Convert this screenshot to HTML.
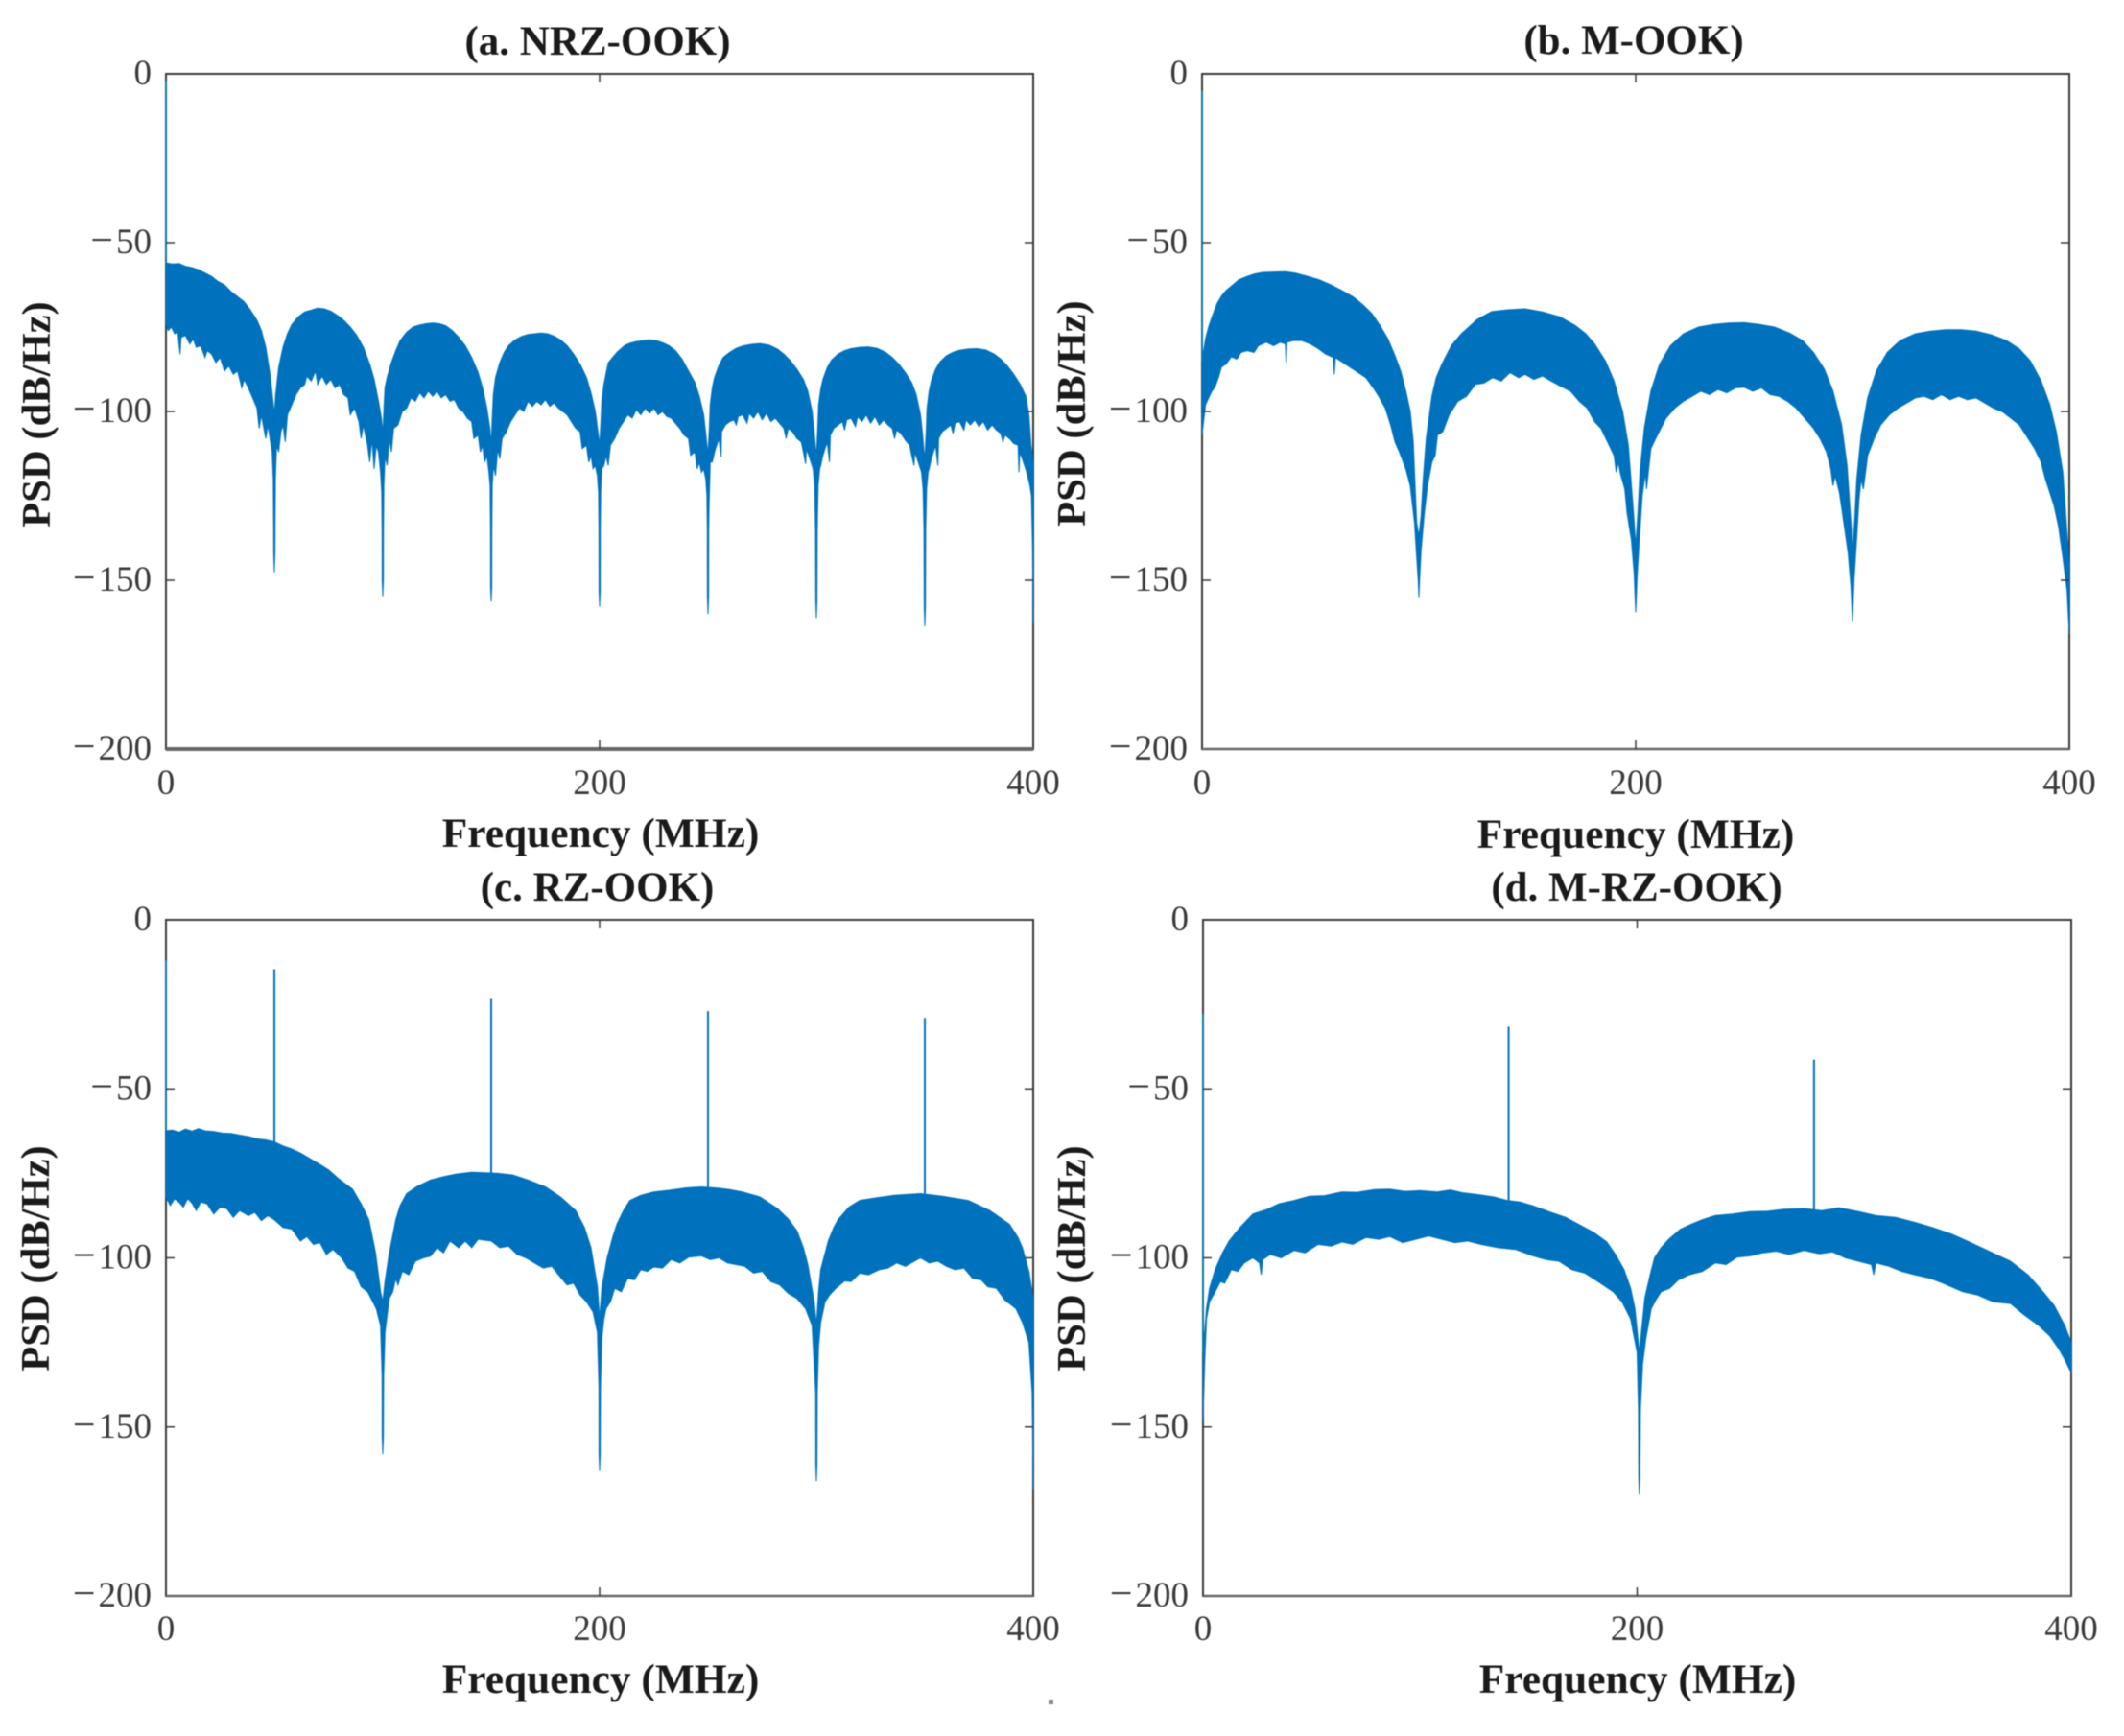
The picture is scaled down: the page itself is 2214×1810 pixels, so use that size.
<!DOCTYPE html>
<html lang="en">
<head>
<meta charset="utf-8">
<title>PSD of OOK formats</title>
<style>
html,body{margin:0;padding:0;background:#fff;}
#figure{display:block;width:2214px;height:1810px;filter:blur(0.4px);}
text{font-family:"Liberation Serif",serif;}
.tick-label{font-size:37px;fill:#3a3a3a;}
.axis-title{font-size:43px;font-weight:bold;fill:#1a1a1a;}
.x-title{font-size:43.4px;}
.y-title{font-size:42.6px;}
</style>
</head>
<body>
<svg id="figure" xmlns="http://www.w3.org/2000/svg" width="2214" height="1810" viewBox="0 0 2214 1810"></svg>
<script>
// Shared tick values
const xTickValues = [0, 200, 400];
const yTickValues = [0, -50, -100, -150, -200];

// (a) NRZ-OOK: [frequency MHz, dB/Hz]
const nrzUpper = [[0,-56],[3,-56.3],[6,-56.2],[9,-57],[12,-57.4],[15,-58],[18,-59],[21,-60],[24,-61.5],[27,-62.5],[30,-64.5],[33,-66],[36,-67.5],[39,-70],[42,-73],[44,-76],[46,-81],[48,-89],[49.4,-97],[50,-101],
[50.6,-95],[52,-87],[54,-81],[56,-77],[58,-74.3],[61,-72],[64,-70.5],[67,-70],[70,-69.4],[73,-69.6],[76,-70.3],[79,-71.5],[82,-73],[85,-75],[88,-77.5],[91,-81],[94,-86],[96,-90.5],[98,-97],[99.4,-102],[100,-107],
[100.6,-98],[101,-93],[102,-90],[104,-85.5],[106,-82],[108,-79],[111,-76.5],[114,-75],[117,-74.4],[120,-74],[123,-73.8],[126,-74],[129,-74.6],[132,-76],[135,-78],[138,-80.5],[141,-84],[144,-88.5],[146,-93],[148,-99],[149.4,-105],[150,-110],
[150.6,-100],[151,-95],[152,-90],[154,-85.5],[156,-82.5],[158,-80.5],[161,-78.8],[164,-77.8],[167,-77.2],[170,-77],[173,-76.8],[176,-77],[179,-77.7],[182,-78.8],[185,-80.5],[188,-83],[191,-86],[194,-90],[196,-94.5],[198,-100],[199.2,-106],[200,-110],
[200.6,-103],[201,-97],[202,-92],[204,-85.6],[206,-84],[208,-82.5],[211.7,-80.4],[214,-79.8],[217,-79.3],[220,-79],[223,-78.8],[226,-79],[229,-79.6],[232,-80.5],[235,-82],[238,-84.5],[241,-88],[244,-91.5],[246,-95.5],[248,-101],[249.2,-108],[250,-113],
[250.6,-105],[251,-98],[252,-93],[253,-90],[255,-86.5],[257,-84],[260,-82.5],[263,-81.3],[266,-80.6],[270,-80.1],[274,-79.9],[278,-80.3],[282,-81.5],[285,-83],[288,-85],[291,-87.5],[294,-90.5],[296,-94],[298,-100],[299,-106],[299.6,-111],[300,-113],
[300.6,-105],[301,-98],[302,-93.5],[303,-90.5],[305,-87],[307,-84.8],[310,-83],[313,-82],[316,-81.4],[320,-81],[324,-80.9],[328,-81.3],[332,-82.5],[335,-84],[338,-86],[341,-88.5],[344,-91.5],[346,-95],[348,-101],[349,-107],[349.6,-112],[350,-114],
[350.6,-106],[351,-99],[352,-94],[353,-91],[355,-87.5],[357,-85.3],[360,-83.5],[363,-82.5],[366,-81.9],[370,-81.5],[374,-81.4],[378,-81.8],[382,-83],[385,-84.5],[388,-86.5],[391,-89],[394,-92],[396.6,-95.5],[398,-101],[399,-110],[400,-115]];
const nrzLower = [[0,-74],[1,-76],[2.5,-75],[4,-77],[5.5,-76.5],[6.5,-83],[7,-78],[9,-77.5],[11,-80],[12.5,-78.5],[14,-81],[16,-80.5],[18,-84],[19,-82],[21,-83],[23,-85.5],[25,-84],[27,-88],[29,-86.5],[31,-89],[33,-88],[35,-93],[36,-90.5],[38,-93],[40,-96],[42,-99],[43,-105],[44,-101],[46,-108],[47,-104],[48,-108],[49,-112],[49.5,-120],[49.7,-135],[49.75,-142],[50,-147.6],
[50.25,-142],[50.3,-135],[50.5,-120],[51,-110],[52,-112],[53,-106],[54,-104],[55,-109],[56,-101],[58,-98],[60,-95],[62,-93],[64,-92],[65,-89.5],[67,-91],[69,-88],[70,-92],[72,-89.5],[74,-92],[76,-90.5],[78,-93],[80,-92],[82,-95],[84,-96],[85,-101],[87,-99],[89,-103],[90,-108],[91,-104],[93,-110],[94,-115],[95,-108],[96,-117],[97,-110],[98,-112],[99,-118],[99.5,-124],[99.7,-135],[99.75,-150],[100,-154.7],
[100.25,-150],[100.3,-135],[100.5,-122],[101,-113],[102,-116],[103,-108],[104,-112],[105,-105],[107,-104],[109,-100],[111,-99],[113,-96],[115,-97],[117,-94.5],[119,-96],[121,-94],[123,-95.5],[125,-94],[127,-96],[129,-95],[131,-97],[133,-96.5],[135,-99],[137,-100],[139,-102],[141,-103],[142,-108],[144,-107],[145,-112],[146,-110],[147,-115],[148,-113],[149,-118],[149.5,-122],[149.7,-135],[149.75,-152],[150,-156.3],
[150.25,-152],[150.3,-135],[150.5,-122],[151,-116],[152,-119],[153,-111],[154,-114],[155,-108],[157,-106],[159,-103],[161,-101],[163,-99],[165,-100],[167,-97],[169,-98.5],[171,-97],[173,-98],[175,-96.5],[177,-98.5],[179,-97.5],[181,-99],[183,-100],[185,-101],[187,-103],[189,-105],[191,-106],[192,-111],[194,-110],[195,-115],[196,-113],[197,-117],[198,-116],[199,-119],[199.5,-124],[199.7,-135],[199.75,-153],[200,-157.8],
[200.25,-153],[200.3,-135],[200.5,-124],[201,-117],[202,-116],[203,-113],[204,-116],[205,-110],[207,-108],[209,-105],[211,-103],[213,-101],[215,-102],[217,-99.5],[219,-101],[221,-99],[223,-100.5],[225,-99],[227,-101],[229,-100],[231,-101.5],[233,-102],[235,-103.5],[237,-105],[239,-107],[241,-108],[242,-113],[244,-112],[245,-117],[246,-115],[247,-118],[248,-117],[249,-120],[249.5,-125],[249.7,-135],[249.75,-155],[250,-160],
[250.25,-155],[250.3,-135],[250.5,-128],[251,-115],[252,-115],[253,-112],[254,-110],[255,-108],[256,-113.5],[256.3,-106],[258,-104],[260,-103],[262,-102.5],[263,-104],[264,-101.5],[266,-101],[268,-103.5],[269,-100.5],[271,-102],[273,-100],[275,-102.5],[277,-100.5],[279,-103],[281,-102],[283,-103.5],[285,-105],[286,-108],[287,-105],[289,-106],[291,-108],[293,-109],[294,-112],[295,-115.5],[295.4,-111],[297,-114],[298.5,-117],[299.2,-122],[299.6,-135],[299.75,-156],[300,-161.2],
[300.25,-156],[300.4,-135],[300.8,-122],[301.5,-117],[302,-116],[303,-113],[304,-111],[305,-109],[306,-115],[306.4,-107],[308,-105],[310,-104],[312,-103],[313,-105.5],[314,-102.5],[316,-102],[318,-104.5],[319,-101.5],[321,-103],[323,-101],[325,-103.5],[327,-101.5],[329,-104],[331,-102.5],[333,-104],[335,-105],[336,-108],[337,-105.5],[339,-106.5],[341,-108.5],[343,-110],[344,-113],[345,-116],[345.4,-112],[347,-115],[348.5,-118],[349.2,-123],[349.6,-135],[349.75,-158],[350,-163.6],
[350.25,-158],[350.4,-135],[350.8,-123],[351.5,-118],[352,-117],[353,-114],[354,-112],[355,-110],[356,-116],[356.4,-108],[358,-106],[360,-105],[362,-104],[363,-106.5],[364,-103.5],[366,-103],[368,-105.5],[369,-102.5],[371,-104],[373,-102.5],[375,-104.5],[377,-103],[379,-105.5],[381,-104],[383,-105.5],[385,-106.5],[386,-109],[387,-107],[389,-108],[391,-109.5],[393,-110],[393.4,-118],[393.8,-112],[395.5,-115],[397,-118],[398.5,-122],[399.2,-125],[399.7,-140],[400,-162.8]];
const nrzSpikeFreqs = [0];
const nrzSpikeTops = [-2];
const nrzSpikeBases = [-56];

// (b) M-OOK
const mookUpper = [[0,-85],[1.6,-78.5],[3,-75],[4.6,-72],[7,-68],[9,-65.8],[11,-64.2],[13.5,-62.9],[17,-61],[20.8,-60],[24,-59.3],[28,-58.8],[33,-58.7],[38.5,-58.6],[43,-59],[48.8,-60],[54,-61],[59,-62.4],[64,-64],[69.5,-66],[74,-68.3],[78.3,-71],[82,-74.5],[85.7,-78.5],[89,-83.5],[91.6,-88],[94,-94],[96,-100],[97.4,-109],[99,-133],[100,-137],
[101,-131],[102,-120],[103.4,-108],[106,-95.5],[108,-90],[110.6,-86],[115,-80.5],[119.6,-77],[127,-72.7],[133.6,-70.4],[141,-69.9],[149,-69.6],[157,-70.5],[165,-72],[172,-74.5],[177,-77],[181,-80],[186,-85],[190,-91],[194,-100],[196.6,-110],[199,-130],[200,-140],
[201,-130],[202,-118],[204,-105],[207,-94],[211,-86],[216,-80.5],[222,-77],[229,-75],[236,-74.2],[243,-73.8],[250,-73.7],[257,-74.2],[264,-75],[271,-76.8],[277,-79],[282,-82.5],[287,-87.5],[291,-94],[295,-104],[297.5,-116],[299.5,-135],[300,-142],
[301,-132],[302,-120],[304,-107],[307,-96],[311,-88],[316,-82.5],[322,-79],[329,-77],[336,-76.2],[343,-75.8],[350,-75.8],[357,-76.2],[364,-77.3],[371,-79],[377,-81.5],[382,-85],[387,-91],[391,-98],[394,-106],[397,-118],[399,-136],[400,-145]];
const mookLower = [[0,-107],[1.6,-98],[3,-96],[4.5,-94],[6,-92.7],[7.5,-90],[9,-86.8],[11,-86],[13.5,-83.8],[16,-84.5],[18,-82.5],[20.8,-82],[24,-82.5],[26,-80.5],[29.6,-79.5],[33,-80.5],[36,-79.5],[38.4,-80],[38.8,-85.6],[39.2,-79.5],[42,-79],[46,-79],[50,-80],[53.4,-81.3],[57,-83],[60.5,-84],[61,-89],[61.5,-84],[65,-85.5],[68,-86.8],[72,-88.5],[75.6,-90],[79,-93],[81.5,-95.5],[84.5,-99],[87,-104],[89,-109],[91,-112],[94,-117],[96,-122],[98,-133],[99,-143],[99.7,-150],[100,-155],
[100.3,-150],[101,-141],[102.5,-130],[104,-122],[106,-115],[107.5,-113],[108.6,-107],[111,-106],[114,-101],[118,-97],[122,-95.5],[126,-92],[130,-91.6],[134,-90],[138,-91],[142,-88.5],[146,-90],[149,-89],[153,-90.5],[157,-89.5],[161,-91],[165,-92.4],[170,-94],[174,-97],[177.6,-99],[181,-103],[184,-105],[187,-109],[190,-113],[191,-118],[192,-115],[193,-118.5],[195,-123],[196,-130],[198,-138],[199.3,-148],[200,-159.5],
[200.7,-148],[202,-135],[203,-125],[204.5,-118],[205,-123],[207,-111],[210,-107],[214,-102],[218,-99],[222,-97],[226,-95.5],[230,-94],[234,-95],[238,-93.5],[242,-94.5],[246,-93],[250,-92.8],[254,-94],[258,-93],[262,-95],[266,-95.5],[270,-97],[274,-99],[278,-102],[282,-105],[285,-108],[288,-112],[290,-117],[291,-122],[292,-119],[294,-124],[296,-133],[298,-142],[299.3,-152],[300,-162],
[300.7,-150],[302,-137],[303,-126],[304,-120],[305,-123],[307,-113],[310,-108],[313,-104],[317,-101],[321,-99],[325,-97.5],[329,-96],[333,-95.5],[337,-96.5],[341,-95],[345,-96.5],[349,-95.5],[353,-96.5],[357,-96],[361,-97.5],[365,-99],[369,-100],[373,-102],[377,-104],[381,-108],[384,-111],[387,-115],[389,-120],[391,-124],[393,-128],[395,-134],[397,-143],[399,-153],[400,-166]];
const mookSpikeFreqs = [0];
const mookSpikeTops = [-5];
const mookSpikeBases = [-85];

// (c) RZ-OOK
const rzUpper = [[0,-62.4],[3,-62.2],[6,-62.8],[9,-61.9],[12,-62.5],[15,-61.8],[18,-62.4],[22,-62.6],[26,-63.1],[30,-63.2],[34,-63.7],[38,-64.1],[42,-64.8],[46,-65.1],[50,-65.7],[54,-66.9],[58,-67.8],[62,-69],[66,-70.5],[70,-72],[75,-74],[80,-76.8],[86,-79.7],[90,-84],[93.6,-88.7],[96.7,-98.6],[99,-110],[100,-113],
[101,-107],[103,-98.6],[106,-88.7],[108,-84.5],[111,-81],[116,-78.8],[122,-77],[128,-76],[134,-75.2],[141,-74.7],[147,-74.8],[153,-75],[160,-75.5],[167,-77],[175,-79],[182,-82],[189,-86],[193,-91],[196,-97],[199,-108.5],[200,-118],
[201,-109],[203.5,-100],[206,-94],[208,-90],[211,-86],[214,-83],[219,-81.5],[225,-80.5],[232,-80],[240,-79.3],[247,-79],[255,-79.4],[260,-79.8],[266,-80.5],[274,-82],[282,-85.4],[287,-88.5],[291,-92],[294,-97],[296,-102],[299,-113],[300,-120],
[301,-110],[302,-103.5],[305.5,-95],[308,-91],[310,-88.7],[315,-85],[320,-83],[328,-82.2],[336,-81.5],[348,-81],[358,-81.8],[370,-83],[380,-86],[389,-90],[393,-94],[395,-97],[398,-104],[400,-112]];
const rzLower = [[0,-82],[2,-84.5],[4,-82.5],[6,-83.5],[8,-85],[10,-82.5],[12,-83.8],[14,-86],[16,-83.5],[19,-84],[22,-87],[25,-85],[28,-85.4],[31,-88],[34,-86],[38,-87.5],[41,-86.5],[44,-89],[47,-87.5],[50,-88.7],[54,-91],[58,-91.5],[62,-95],[65,-93.7],[68,-96],[71,-95.5],[74,-99],[77,-97.5],[81,-100],[84,-103],[87,-104],[90,-108.5],[93,-110],[97,-115],[99,-120],[99.7,-135],[99.75,-153],[100,-158],
[100.25,-153],[100.4,-135],[101,-122],[102,-117],[103,-112],[104.6,-110],[106,-106],[107,-108],[109,-104],[112,-105],[115,-101],[118.7,-100],[122,-99.5],[125,-97],[128,-98.5],[131,-95],[135,-97],[138,-95],[141,-97],[144,-94.5],[150,-95],[154,-97],[158,-96.5],[162,-99],[166,-100],[170,-101.5],[174,-103],[178,-102.5],[181,-105],[185,-108],[188,-107.5],[191,-111],[194,-113],[197,-116],[199,-122],[199.7,-138],[199.75,-158],[200,-163],
[200.25,-158],[200.4,-138],[201,-124],[202,-118],[203,-115],[205,-113],[207,-109],[210,-110],[213,-106],[216,-106.5],[219,-103.5],[222,-104],[225,-102.7],[229,-103],[233,-100.5],[237,-101.5],[241,-99.8],[247,-99.4],[251,-100.5],[255,-100],[259,-101.5],[263,-102],[267,-102.5],[271,-104.5],[275,-104],[279,-107],[283,-108],[287,-110.5],[291,-112],[295,-115],[298,-120],[299.7,-140],[299.75,-161],[300,-166],
[300.25,-161],[300.4,-140],[301,-126],[302,-119],[304,-113],[306,-111],[309,-109],[313,-106.8],[316,-107],[320,-104.5],[324,-105],[329,-103.5],[333,-103],[337,-101.5],[341,-102.5],[348,-100],[352,-101.5],[356,-101],[360,-102.5],[364,-103.5],[368,-103],[372,-106],[376,-106.5],[379,-108.5],[383,-109],[387,-112.5],[392,-115],[395,-119],[398,-125],[399.5,-140],[400,-168.5]];
const rzSpikeFreqs = [0, 50, 150, 250, 350];
const rzSpikeTops = [-12, -14.6, -23.4, -27, -29];
const rzSpikeBases = [-62.4, -66, -75, -79, -81];

// (d) M-RZ-OOK
const mrzUpper = [[0,-128],[1.6,-115],[3,-109],[5.6,-103.5],[9,-98.5],[12,-95],[17,-91],[23,-87],[29,-85.8],[35,-84],[42,-83],[49,-81.8],[56,-81.6],[64,-80.5],[71,-80.6],[79,-79.8],[86,-79.7],[93,-80.3],[100,-80.1],[108,-80.5],[114,-79.9],[120,-80.8],[127,-81.3],[134,-82],[140,-83],[146,-83.5],[152,-84.6],[160,-86.5],[167,-88],[174,-90.4],[180,-92.5],[186,-95.3],[190,-99],[194,-103.5],[197,-109],[199,-115],[201,-128],
[203.6,-111.8],[206,-105],[208,-100],[211,-97],[214.6,-94.5],[220,-91.5],[225,-90],[230,-88.7],[236,-87.5],[244,-87],[252,-86.3],[260,-86.2],[268,-85.6],[277,-85.4],[285,-86],[293,-85.2],[302,-86.3],[310,-87.5],[319,-88],[328,-89.5],[336,-91],[345,-93],[353,-95.3],[362,-98],[372,-101],[380,-105],[387,-110],[392,-114],[397,-120],[400,-125]];
const mrzLower = [[0,-148],[0.8,-130],[1.6,-118],[3,-113],[5.6,-110],[8,-107],[10,-107.5],[13,-103.5],[16,-104],[19,-101.5],[23,-100],[26,-101.5],[26.8,-105],[27.5,-100.5],[31,-99],[36,-100],[42,-97.8],[47,-98.5],[53,-96],[59,-96.5],[64,-95.3],[69,-96],[75,-94],[81,-94.5],[86,-93.7],[92,-95.5],[98,-94.5],[104,-93.5],[110,-94.5],[116,-95.5],[122,-95],[128,-96],[136,-97],[144,-97.5],[152,-99.4],[158,-100.5],[164,-101],[170,-103.5],[176,-104.5],[182,-107],[189,-110],[193,-113],[197,-118],[200,-128],[200.6,-145],[200.75,-165],[201,-170],
[201.25,-165],[201.5,-145],[202.5,-131.5],[204,-124],[206.5,-115],[209,-112],[211,-110],[215,-109],[219,-106.5],[224,-105],[230,-104],[236,-101.5],[241,-102],[246,-99.8],[252,-99.4],[258,-98.5],[264,-98],[270,-99],[277,-97.8],[284,-98.8],[290,-98.2],[296,-100],[302,-101],[308,-102],[309,-105],[310,-101.5],[316,-102.5],[322,-104],[328,-105],[335,-106],[341,-107.5],[350,-110],[357,-111],[364,-113],[372,-113.5],[378,-116.7],[385,-120],[390,-123],[394,-126.6],[397,-130],[400,-134]];
const mrzSpikeFreqs = [0, 140.8, 281.5];
const mrzSpikeTops = [-27.8, -31.6, -41.3];
const mrzSpikeBases = [-128, -83, -86.5];

// Panel layout
const panels = [
  {id:'a', title:'(a. NRZ-OOK)', upper:nrzUpper, lower:nrzLower, sf:nrzSpikeFreqs, st:nrzSpikeTops, sb:nrzSpikeBases,
   l:173, r:1077, t:77, b:781, titleX:623, titleY:57, xlabX:626, xlabY:883, ylabX:52, ylabY:432, xTickY:828, bottomW:4},
  {id:'b', title:'(b. M-OOK)', upper:mookUpper, lower:mookLower, sf:mookSpikeFreqs, st:mookSpikeTops, sb:mookSpikeBases,
   l:1253, r:2157, t:77, b:781, titleX:1703, titleY:56, xlabX:1705, xlabY:884, ylabX:1131, ylabY:431, xTickY:828, bottomW:2.5},
  {id:'c', title:'(c. RZ-OOK)', upper:rzUpper, lower:rzLower, sf:rzSpikeFreqs, st:rzSpikeTops, sb:rzSpikeBases,
   l:173, r:1077, t:959, b:1664, titleX:622.5, titleY:939, xlabX:626, xlabY:1765, ylabX:51, ylabY:1312, xTickY:1710, bottomW:2.5},
  {id:'d', title:'(d. M-RZ-OOK)', upper:mrzUpper, lower:mrzLower, sf:mrzSpikeFreqs, st:mrzSpikeTops, sb:mrzSpikeBases,
   l:1254, r:2159, t:959, b:1664, titleX:1706, titleY:939, xlabX:1707, xlabY:1765, ylabX:1131, ylabY:1312, xTickY:1710, bottomW:2.5}
];

const SVG_NS = 'http://www.w3.org/2000/svg';
const root = document.getElementById('figure');
const AXIS_COLOR = '#3a3a3a';
const SERIES_COLOR = '#0072BD';

function make(tag, attrs, parent) {
  const el = document.createElementNS(SVG_NS, tag);
  for (const k in attrs) el.setAttribute(k, attrs[k]);
  parent.appendChild(el);
  return el;
}
function xScale(p, f) { return p.l + (f - 0) / 400 * (p.r - p.l); }
function yScale(p, v) { return p.t + (0 - v) / 200 * (p.b - p.t); }

panels.forEach(function (p) {
  const g = make('g', {}, root);
  
  

  // Axes box (drawn under the series)
  const box = make('rect', {x: p.l, y: p.t, width: p.r - p.l, height: p.b - p.t, fill: 'none', stroke: AXIS_COLOR, 'stroke-width': 2}, g);
  
  
  const base = make('line', {x1: p.l, x2: p.r, y1: p.b, y2: p.b, stroke: '#666', 'stroke-width': p.bottomW}, g);
  
  

  // PSD band between the upper and lower envelopes
  const pts = p.upper.map(function (d) { return xScale(p, d[0]).toFixed(1) + ',' + yScale(p, d[1]).toFixed(1); })
    .concat(p.lower.slice().reverse().map(function (d) { return xScale(p, d[0]).toFixed(1) + ',' + yScale(p, d[1]).toFixed(1); }));
  const band = make('polygon', {points: pts.join(' '), fill: SERIES_COLOR, stroke: SERIES_COLOR, 'stroke-width': 1}, g);
  
  

  // Carrier / clock spikes
  p.sf.forEach(function (f, i) {
    const spike = make('line', {x1: xScale(p, f), x2: xScale(p, f), y1: yScale(p, p.st[i]), y2: yScale(p, p.sb[i]), stroke: f === 0 ? '#0a78a0' : SERIES_COLOR, 'stroke-width': 2}, g);
    
    
  });

  // X ticks
  xTickValues.forEach(function (v) {
    const x = xScale(p, v);
    if (v > 0 && v < 400) {
      const tb = make('line', {x1: x, x2: x, y1: p.b, y2: p.b - 9, stroke: AXIS_COLOR, 'stroke-width': 1.5}, g);
      
      
      const tt = make('line', {x1: x, x2: x, y1: p.t, y2: p.t + 9, stroke: AXIS_COLOR, 'stroke-width': 1.5}, g);
      
      
    }
    const lab = make('text', {x: x, y: p.xTickY, 'text-anchor': 'middle', class: 'tick-label'}, g);
    lab.textContent = String(v);
    
    
  });

  // Y ticks
  yTickValues.forEach(function (v) {
    const y = yScale(p, v);
    if (v < 0 && v > -200) {
      const tl = make('line', {x1: p.l, x2: p.l + 9, y1: y, y2: y, stroke: AXIS_COLOR, 'stroke-width': 1.5}, g);
      
      
      const tr = make('line', {x1: p.r, x2: p.r - 9, y1: y, y2: y, stroke: AXIS_COLOR, 'stroke-width': 1.5}, g);
      
      
    }
    const lab = make('text', {x: p.l - 15, y: y + 11, 'text-anchor': 'end', class: 'tick-label'}, g);
    if (v < 0) {
      const minus = make('tspan', {'font-size': 42, style: 'font-size:42px'}, lab);
      minus.textContent = '\u2212';
      const digits = make('tspan', {dx: 3}, lab);
      digits.textContent = String(Math.abs(v));
    } else {
      lab.textContent = String(v);
    }
    
    
  });

  // Titles
  const title = make('text', {x: p.titleX, y: p.titleY, 'text-anchor': 'middle', class: 'axis-title'}, g);
  title.textContent = p.title;
  
  

  const xl = make('text', {x: p.xlabX, y: p.xlabY, 'text-anchor': 'middle', class: 'axis-title x-title'}, g);
  xl.textContent = 'Frequency (MHz)';
  
  

  const yl = make('text', {x: 0, y: 0, 'text-anchor': 'middle', class: 'axis-title y-title', transform: 'translate(' + p.ylabX + ',' + p.ylabY + ') rotate(-90)'}, g);
  yl.textContent = 'PSD (dB/Hz)';
  
  
});

// Small scan speck below panel (c)
const speck = make('rect', {x: 1093, y: 1772, width: 5, height: 5, fill: '#888'}, root);


</script>
</body>
</html>
